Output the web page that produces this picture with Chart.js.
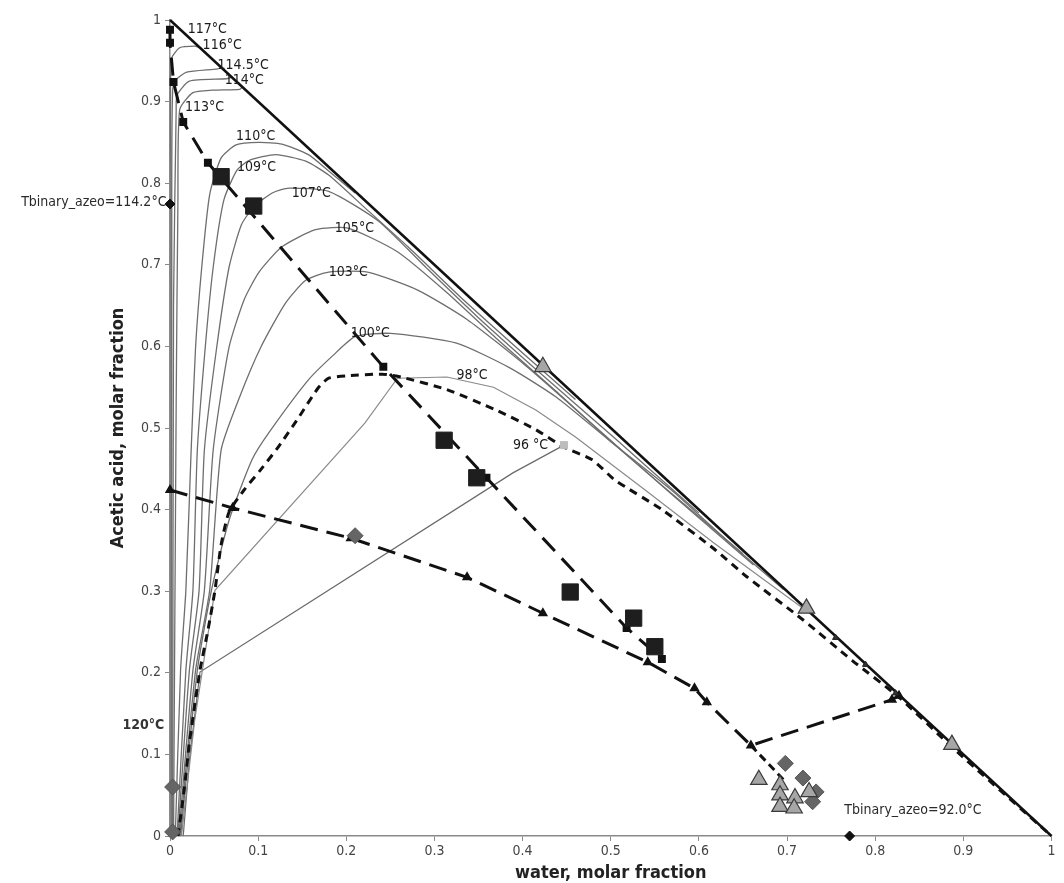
<!DOCTYPE html>
<html><head><meta charset="utf-8">
<script src="https://cdn.jsdelivr.net/npm/chart.js@4.4.0/dist/chart.umd.min.js"></script>
<style>html,body{margin:0;padding:0;background:#fff}#wrap{width:1064px;height:883px;position:relative}</style>
</head><body><div id="wrap"><canvas id="c" width="1064" height="883"></canvas></div>
<script>
// ---------- data ----------
const tickValues = [0,0.1,0.2,0.3,0.4,0.5,0.6,0.7,0.8,0.9,1];
const tickLabels = ['0','0.1','0.2','0.3','0.4','0.5','0.6','0.7','0.8','0.9','1'];

const hypotenuse = [[0,1],[1,0]];
const iso116 = [[0.001,0],[0.001,0.8],[0.001,0.951],[0.011,0.966],[0.028,0.968],[0.034,0.966]];
const iso1145 = [[0.002,0],[0.002,0.8],[0.003,0.914],[0.006,0.926],[0.019,0.936],[0.054,0.940],[0.058,0.942]];
const iso114 = [[0.003,0],[0.004,0.65],[0.007,0.890],[0.008,0.908],[0.022,0.925],[0.064,0.928],[0.070,0.930]];
const iso113 = [[0.004,0],[0.007,0.53],[0.009,0.779],[0.011,0.890],[0.026,0.911],[0.048,0.914],[0.079,0.915],[0.082,0.918]];
const iso110 = [[0.006,0],[0.012,0.203],[0.018,0.301],[0.024,0.473],[0.029,0.599],[0.036,0.697],[0.045,0.786],[0.058,0.831],[0.075,0.847],[0.101,0.850],[0.127,0.848],[0.157,0.835],[0.180,0.815],[0.210,0.788]];
const iso109 = [[0.008,0],[0.018,0.203],[0.026,0.301],[0.031,0.473],[0.040,0.599],[0.049,0.697],[0.061,0.779],[0.076,0.816],[0.090,0.828],[0.120,0.835],[0.154,0.827],[0.180,0.810],[0.220,0.771],[0.270,0.722],[0.330,0.660],[0.400,0.592],[0.460,0.535]];
const iso107 = [[0.009,0],[0.022,0.203],[0.033,0.301],[0.039,0.473],[0.053,0.599],[0.067,0.697],[0.081,0.749],[0.095,0.771],[0.116,0.788],[0.135,0.794],[0.180,0.790],[0.236,0.754],[0.292,0.695],[0.348,0.637],[0.415,0.572],[0.505,0.487],[0.600,0.396]];
const iso105 = [[0.010,0],[0.026,0.203],[0.039,0.301],[0.049,0.473],[0.067,0.599],[0.084,0.657],[0.101,0.691],[0.127,0.722],[0.165,0.743],[0.202,0.745],[0.258,0.716],[0.314,0.666],[0.370,0.610],[0.438,0.545],[0.505,0.479],[0.572,0.417],[0.650,0.346]];
const iso103 = [[0.011,0],[0.029,0.203],[0.045,0.301],[0.058,0.473],[0.079,0.538],[0.103,0.599],[0.131,0.653],[0.154,0.681],[0.180,0.691],[0.224,0.691],[0.281,0.669],[0.337,0.633],[0.404,0.576],[0.483,0.501],[0.572,0.416],[0.662,0.332]];
const iso100 = [[0.012,0],[0.031,0.203],[0.047,0.301],[0.067,0.387],[0.093,0.461],[0.112,0.494],[0.157,0.559],[0.185,0.589],[0.210,0.612],[0.250,0.616],[0.325,0.604],[0.385,0.574],[0.438,0.538],[0.497,0.486],[0.572,0.421],[0.629,0.365],[0.696,0.302]];
const iso98 = [[0.013,0],[0.028,0.142],[0.042,0.240],[0.051,0.301],[0.221,0.506],[0.258,0.561],[0.314,0.5625],[0.367,0.550],[0.415,0.522],[0.460,0.489],[0.539,0.424],[0.617,0.359],[0.718,0.279]];
const iso96 = [[0.015,0],[0.022,0.093],[0.034,0.201],[0.389,0.445],[0.447,0.479]];

const vleCurve = [[0.009,0],[0.016,0.056],[0.022,0.114],[0.034,0.203],[0.043,0.252],[0.051,0.301],[0.058,0.357],[0.067,0.397],[0.084,0.424],[0.103,0.449],[0.123,0.477],[0.146,0.513],[0.168,0.549],[0.180,0.561],[0.202,0.564],[0.241,0.566],[0.262,0.5625],[0.314,0.547],[0.370,0.522],[0.415,0.498],[0.446,0.477],[0.479,0.461],[0.505,0.436],[0.558,0.400],[0.617,0.352],[0.654,0.318],[0.718,0.265],[0.774,0.215],[0.827,0.170],[0.887,0.109],[1,0]];
const tieLine = [[0,0.988],[0,0.972],[0.004,0.924],[0.015,0.875],[0.043,0.825],[0.242,0.575],[0.359,0.439],[0.518,0.255],[0.558,0.217]];
const lleCurve = [[0,0.424],[0.071,0.402],[0.205,0.365],[0.337,0.317],[0.423,0.273],[0.542,0.213],[0.595,0.181],[0.609,0.164],[0.659,0.111],[0.819,0.167],[0.827,0.172]];
const lleTail = [[0.659,0.111],[0.696,0.069]];

const expSquares = [[0.058,0.808],[0.095,0.772],[0.311,0.485],[0.348,0.439],[0.454,0.299],[0.526,0.267],[0.550,0.232]];
const grayDiamonds = [[0.003,0.06],[0.003,0.005],[0.21,0.368],[0.698,0.089],[0.718,0.071],[0.733,0.054],[0.729,0.042]];
const azeoPoints = [[0,0.7745],[0.771,0]];
const grayTriangles = [[0.423,0.575],[0.722,0.279],[0.887,0.112],[0.668,0.069],[0.692,0.0625],[0.692,0.050],[0.692,0.036],[0.709,0.0465],[0.708,0.034],[0.725,0.054]];
const smallTriangles = [[0.755,0.243],[0.789,0.21],[0.823,0.175]];
const point96 = [[0.447,0.479]];

const isoLabels = ['117°C','116°C','114.5°C','114°C','113°C','110°C','109°C','107°C','105°C','103°C','100°C','98°C','96 °C'];
const isoLabelX = [0.020,0.037,0.054,0.062,0.017,0.075,0.076,0.138,0.187,0.180,0.205,0.325,0.389];
const isoLabelY = [0.988,0.969,0.945,0.926,0.893,0.857,0.820,0.787,0.745,0.691,0.616,0.565,0.479];
const otherLabels = ['120°C','Tbinary_azeo=114.2°C','Tbinary_azeo=92.0°C'];
const otherLabelX = [-0.054,-0.004,0.765];
const otherLabelY = [0.136,0.777,0.032];
const otherLabelAlign = ['left','right','left'];
const xTitle = 'water, molar fraction';
const yTitle = 'Acetic acid, molar fraction';

// ---------- chart ----------
const FONT = "'Liberation Sans Narrow','DejaVu Sans Condensed',sans-serif";
const pts = a => a.map(p => ({x:p[0], y:p[1]}));
function line(data, color, width, dash, tension, order){
  return {data: pts(data), showLine:true, borderColor:color, borderWidth:width, borderDash:dash||[],
    pointRadius:0, tension:tension||0, fill:false, clip:false, order:order||10};
}
function marks(data, style, r, fill, border, bw, order){
  return {data: pts(data), showLine:false, pointStyle:style, pointRadius:r, pointHoverRadius:r,
    backgroundColor:fill, borderColor:border, borderWidth:bw, clip:false, order:order||1};
}
const isoColor = '#6e6e6e';
const datasets = [
  marks(expSquares,'rect',11.5,'#1e1e1e','#1e1e1e',1,1),
  marks(grayTriangles,'triangle',9.5,'#a6a6a6','#3a3a3a',1.2,2),
  marks(grayDiamonds,'rectRot',8,'#656565','#555',1,2),
  marks(azeoPoints,'rectRot',5,'#111','#111',1,1),
  marks(smallTriangles,'triangle',3.5,'#333','#222',1,1),
  marks(point96,'rect',5,'#bdbdbd','#bdbdbd',1,1),
  Object.assign(line(tieLine,'#111',3,[18,10],0,5),{pointRadius:3.5,pointStyle:'rect',pointBackgroundColor:'#111',pointBorderColor:'#111'}),
  Object.assign(line(lleCurve,'#111',3,[18,9],0,5),{pointRadius:3,pointStyle:'triangle',pointBackgroundColor:'#111',pointBorderColor:'#111'}),
  line(lleTail,'#111',3,[8,5],0,5),
  line(vleCurve,'#111',3,[8,6],0.2,6),
  line(hypotenuse,'#111',2.5,[],0,7),
  line(iso116,isoColor,1.3,[],0.2),
  line(iso1145,isoColor,1.3,[],0.2),
  line(iso114,isoColor,1.3,[],0.2),
  line(iso113,isoColor,1.3,[],0.2),
  line(iso110,isoColor,1.3,[],0.2),
  line(iso109,isoColor,1.3,[],0.2),
  line(iso107,isoColor,1.3,[],0.2),
  line(iso105,isoColor,1.3,[],0.2),
  line(iso103,isoColor,1.3,[],0.2),
  line(iso100,isoColor,1.3,[],0.2),
  line(iso98,'#8a8a8a',1.2,[],0),
  line(iso96,'#6a6a6a',1.2,[],0)
];

const textPlugin = {
  id:'texts',
  afterDatasetsDraw(chart){
    const {ctx, scales:{x, y}} = chart;
    ctx.save();
    ctx.fillStyle = '#1a1a1a';
    ctx.textBaseline = 'middle';
    ctx.font = '14px ' + FONT;
    ctx.textAlign = 'left';
    isoLabels.forEach((t,i)=>ctx.fillText(t, x.getPixelForValue(isoLabelX[i]), y.getPixelForValue(isoLabelY[i])));
    otherLabels.forEach((t,i)=>{
      ctx.font = (i===0 ? 'bold 14px ' : '14px ') + FONT;
      ctx.fillStyle = i===0 ? '#333' : '#2a2a2a';
      ctx.textAlign = otherLabelAlign[i];
      ctx.fillText(t, x.getPixelForValue(otherLabelX[i]), y.getPixelForValue(otherLabelY[i]));
    });
    ctx.fillStyle = '#222';
    ctx.font = 'bold 18px ' + FONT;
    ctx.textAlign = 'center';
    ctx.fillText(xTitle, x.getPixelForValue(0.5), 873);
    ctx.translate(118, y.getPixelForValue(0.5));
    ctx.rotate(-Math.PI/2);
    ctx.fillText(yTitle, 0, 0);
    ctx.restore();
  }
};

const axisCommon = {
  type:'linear', min:0, max:1,
  afterBuildTicks: s => { s.ticks = tickValues.map(v => ({value:v})); },
  ticks:{ callback:(v,i)=>tickLabels[i], color:'#444', font:{family:FONT, size:14}, autoSkip:false, maxRotation:0 },
  grid:{ drawOnChartArea:false, drawTicks:true, tickLength:5, color:'#8a8a8a' },
  border:{ display:true, color:'#8a8a8a', width:1.5 }
};

new Chart(document.getElementById('c'), {
  type:'scatter',
  data:{ datasets },
  options:{
    responsive:false, animation:false, devicePixelRatio:1,
    layout:{ padding:{ top:20, right:3, left:0, bottom:0 } },
    plugins:{ legend:{display:false}, tooltip:{enabled:false} },
    scales:{
      x: Object.assign({}, axisCommon, { afterFit: s => { s.height = 47; }, ticks:Object.assign({}, axisCommon.ticks, {padding:2}) }),
      y: Object.assign({}, axisCommon, { afterFit: s => { s.width = 170; }, ticks:Object.assign({}, axisCommon.ticks, {padding:4}) })
    }
  },
  plugins:[textPlugin]
});
</script>
</body></html>
